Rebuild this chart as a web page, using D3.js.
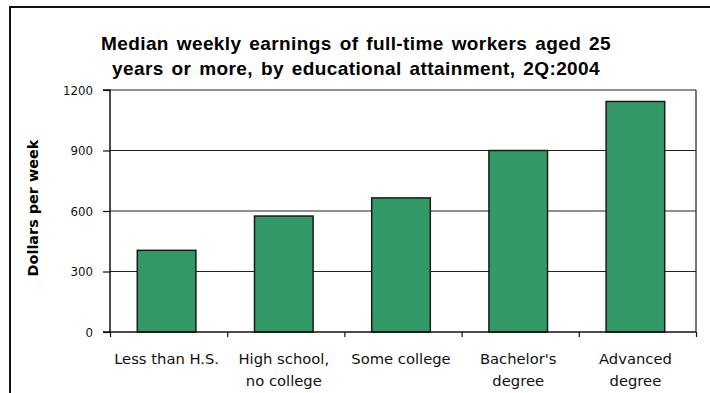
<!DOCTYPE html>
<html><head><meta charset="utf-8">
<script src="https://cdn.jsdelivr.net/npm/d3@7"></script>
<style>body{margin:0;background:#fff}svg{display:block}</style>
</head><body>
<script>
const categories = [["Less than H.S."],["High school,","no college"],["Some college"],["Bachelor's","degree"],["Advanced","degree"]];
const values = [405, 575, 665, 900, 1143];
const yTicks = [0, 300, 600, 900, 1200];
const titleLines = ["Median weekly earnings of full-time workers aged 25","years or more, by educational attainment, 2Q:2004"];
const yLabel = "Dollars per week";

const W = 710, H = 393;
const svg = d3.select("body").append("svg").attr("width", W).attr("height", H);
const m = {left:110, right:696, top:90, bottom:332};

function fitSize(sel, target) {
  const base = +sel.attr("font-size");
  const w = sel.node().getComputedTextLength();
  return base * target / w;
}

// outer frame
svg.append("path").attr("d", `M10,${H} L10,7 L${W},7`).attr("fill","none").attr("stroke","#111").attr("stroke-width",2);

const x = d3.scaleBand().domain(d3.range(categories.length)).range([m.left-2, m.right-2]).paddingInner(0.5).paddingOuter(0.25);
const y = d3.scaleLinear().domain([0,1200]).range([m.bottom, m.top]);

// gridlines
svg.append("g").selectAll("line").data(yTicks.filter(d=>d>0)).join("line")
  .attr("x1", m.left).attr("x2", m.right).attr("y1", d=>y(d)).attr("y2", d=>y(d))
  .attr("stroke","#222").attr("stroke-width",1.2);
svg.append("line").attr("x1",m.right).attr("x2",m.right).attr("y1",m.top).attr("y2",m.bottom).attr("stroke","#222").attr("stroke-width",1.2);

// bars
svg.append("g").selectAll("rect").data(values).join("rect")
  .attr("x",(d,i)=>x(i)).attr("width",x.bandwidth())
  .attr("y",d=>y(d)).attr("height",d=>y(0)-y(d))
  .attr("fill","#339966").attr("stroke","#1a1a1a").attr("stroke-width",1.5);

// y axis
const yAxis = d3.axisLeft(y).tickValues(yTicks).tickSize(7).tickPadding(10).tickFormat(d3.format("d"));
const gy = svg.append("g").attr("transform",`translate(${m.left},0)`).call(yAxis);
gy.select(".domain").attr("stroke","#111").attr("stroke-width",1.5).attr("d",`M-7,${m.bottom}H0V${m.top}H-7`);
gy.selectAll(".tick line").attr("stroke","#111").attr("stroke-width",1.2);
gy.selectAll(".tick text").attr("font-family","DejaVu Sans, sans-serif").attr("font-size",12).attr("fill","#111").attr("dy","0.36em");
{
  const t = gy.selectAll(".tick text").filter(d=>d===1200);
  const s = fitSize(t, 30);
  gy.selectAll(".tick text").attr("font-size", s);
}

// x axis
const xEdges = d3.scaleLinear().domain([0,categories.length]).range([m.left,m.right]);
const xAxis = d3.axisBottom(xEdges).tickValues(d3.range(categories.length+1)).tickSize(5).tickFormat("");
const gx = svg.append("g").attr("transform",`translate(0,${m.bottom})`).call(xAxis);
gx.select(".domain").attr("stroke","#111").attr("stroke-width",1.5).attr("d",`M${m.left},0H${m.right}`);
gx.selectAll(".tick line").attr("stroke","#111").attr("stroke-width",1.2);

// category labels
const cl = svg.append("g").selectAll("text").data(categories).join("text")
  .attr("x",(d,i)=>x(i)+x.bandwidth()/2).attr("y",364)
  .attr("text-anchor","middle").attr("font-family","DejaVu Sans, sans-serif").attr("font-size",13).attr("fill","#111");
cl.selectAll("tspan").data(d=>d).join("tspan").attr("x",function(){return this.parentNode.getAttribute("x");})
  .attr("dy",(d,i)=>i?22:0).text(d=>d);
{
  const s = fitSize(cl.filter((d,i)=>i===0), 105);
  cl.attr("font-size", s);
}

// title
const tt = svg.append("g").selectAll("text").data(titleLines).join("text")
  .attr("x",356).attr("y",(d,i)=>50+i*25).attr("text-anchor","middle")
  .attr("font-family","Liberation Sans, Arial, sans-serif").attr("font-weight","bold").attr("font-size",19)
  .attr("letter-spacing",0.4).attr("fill","#000")
  .text(d=>d);
{
  const t0 = tt.filter((d,i)=>i===0);
  const w = t0.node().getComputedTextLength();
  const nSpaces = titleLines[0].split(" ").length - 1;
  tt.attr("word-spacing", Math.max(0, (510 - w) / nSpaces));
}

// y label
const yl = svg.append("text").attr("transform","translate(38,208) rotate(-90)").attr("text-anchor","middle")
  .attr("font-family","DejaVu Sans, sans-serif").attr("font-weight","bold").attr("font-size",13).attr("fill","#000")
  .text(yLabel);
yl.attr("font-size", fitSize(yl, 137));
</script>
</body></html>
